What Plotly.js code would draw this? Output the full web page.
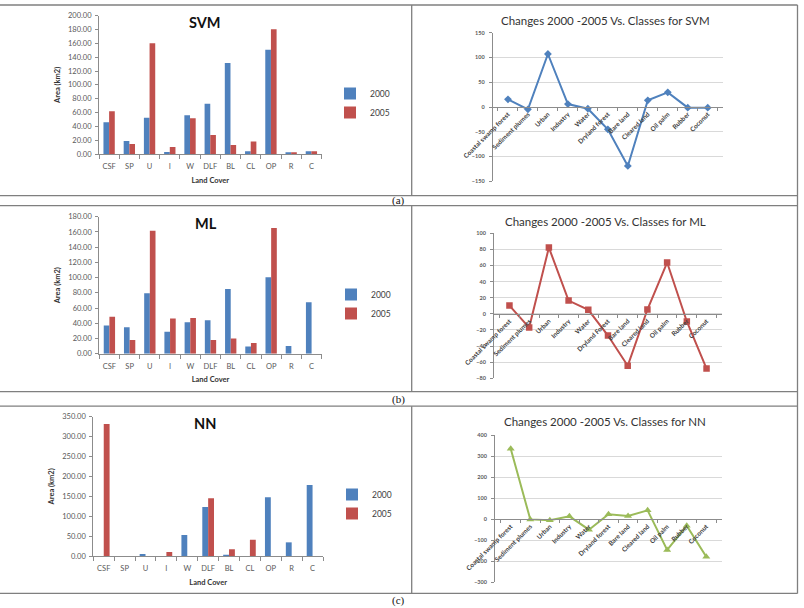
<!DOCTYPE html>
<html>
<head>
<meta charset="utf-8">
<script src="https://cdn.plot.ly/plotly-3.0.1.min.js"></script>
<style>
html,body{margin:0;padding:0;background:#fff;}
#chart{width:804px;height:608px;}
</style>
</head>
<body>
<div id="chart"></div>
<script>
// ---------- data ----------
const landCover = ['CSF','SP','U','I','W','DLF','BL','CL','OP','R','C'];
const svm2000 = [45.8, 18.8, 52.5, 2.9, 55.9, 72.8, 131.6, 3.9, 150.8, 2.4, 3.9];
const svm2005 = [61.7, 14.5, 160.0, 10.1, 51.6, 27.5, 13.0, 18.0, 180.5, 2.4, 3.9];
const ml2000 = [37.2, 34.6, 79.3, 28.9, 41.2, 43.8, 85.0, 9.6, 100.5, 10.0, 67.5];
const ml2005 = [48.6, 18.0, 161.6, 46.4, 46.9, 18.0, 20.1, 14.0, 165.0, 0, 0];
const nn2000 = [0, 0, 5.0, 0, 52.8, 123.0, 3.3, 0, 147.4, 34.3, 178.4];
const nn2005 = [331.6, 0, 0, 10.0, 0, 145.0, 16.8, 41.0, 0, 0, 0];

const classesSVM = ['Coastal swamp forest','Sediment plumes','Urban','Industry','Water','Dryland forest','Bare land','Cleared land','Oil palm','Rubber','Coconut'];
const classesML  = ['Coastal swamp forest','Sediment plumes','Urban','Industry','Water','Dryland Forest','Bare land','Cleared land','Oil palm','Rubber','Coconut'];
const classesNN  = ['Coastal swamp forest','Sediment plumes','Urban','Industry','Water','Dryland forest','Bare land','Cleared land','Oil palm','Rubber','Coconut'];
const svmChange = [15.5, -4.7, 107, 6, -3.4, -45, -119, 13.5, 29.6, -1.3, -1.3];
const mlChange  = [10.3, -17, 82.3, 16.5, 5, -26.9, -64.5, 5.4, 63.7, -9.5, -67.9];
const nnChange  = [335, -1, -5, 13.6, -50, 23, 15, 42, -146, -31, -179];

// ---------- helpers ----------
const W = 804, H = 608;
const X = px => px / W;
const Y = py => 1 - py / H;
const BLUE = '#4F81BD', RED = '#C0504D', GREEN = '#9BBB59';
const FONT = 'Lato, "Liberation Sans", sans-serif';

function barY(range, dtick, dom){
  return {domain:[Y(dom[0]),Y(dom[1])], range:range, dtick:dtick, tickformat:'.2f',
    showline:true, linecolor:'#8c8c8c', linewidth:1, ticks:'outside', ticklen:3, tickcolor:'#8c8c8c',
    ticklabelstandoff:2,
    showgrid:false, zeroline:false, fixedrange:true,
    tickfont:{size:7.5, color:'#595959', family:FONT},
    title:{text:'Area (km2)', font:{size:7.5, weight:'bold', color:'#333'}, standoff:6}};
}
function barX(dom, anchor){
  return {domain:[X(dom[0]),X(dom[1])], anchor:anchor, type:'category', tickangle:0,
    showline:true, linecolor:'#8c8c8c', linewidth:1, ticks:'outside', tickson:'boundaries', ticklen:4, tickcolor:'#8c8c8c',
    ticklabelstandoff:5,
    showgrid:false, zeroline:false, fixedrange:true,
    tickfont:{size:7.5, color:'#595959', family:FONT},
    title:{text:'Land Cover', font:{size:7.5, weight:'bold', color:'#333'}, standoff:7}};
}
function lineY(range, dtick, dom){
  return {domain:[Y(dom[0]),Y(dom[1])], range:range, dtick:dtick,
    showline:true, linecolor:'#8c8c8c', linewidth:1, ticks:'outside', ticklen:3, tickcolor:'#8c8c8c',
    ticklabelstandoff:3,
    showgrid:true, gridcolor:'#d9d9d9', gridwidth:1, zeroline:false, fixedrange:true,
    tickfont:{size:5.5, color:'#595959', family:FONT, weight:'bold'}};
}
function lineX(dom, zeroPx){
  return {domain:[X(dom[0]),X(dom[1])], anchor:'free', position:Y(zeroPx), type:'category',
    showline:true, linecolor:'#8c8c8c', linewidth:1, ticks:'outside', tickson:'boundaries', ticklen:3, tickcolor:'#8c8c8c',
    showgrid:false, zeroline:false, fixedrange:true, tickangle:-45,
    tickfont:{size:6.5, color:'#404040', family:FONT, weight:'bold'}};
}

// ---------- traces ----------
const traces = [
  {type:'bar', x:landCover, y:svm2000, name:'2000', marker:{color:BLUE}, xaxis:'x', yaxis:'y', legend:'legend'},
  {type:'bar', x:landCover, y:svm2005, name:'2005', marker:{color:RED}, xaxis:'x', yaxis:'y', legend:'legend'},
  {type:'scatter', mode:'lines+markers', x:classesSVM, y:svmChange, xaxis:'x2', yaxis:'y2', showlegend:false,
    line:{color:BLUE, width:2}, marker:{symbol:'diamond', size:6, color:BLUE}},
  {type:'bar', x:landCover, y:ml2000, name:'2000', marker:{color:BLUE}, xaxis:'x3', yaxis:'y3', legend:'legend2'},
  {type:'bar', x:landCover, y:ml2005, name:'2005', marker:{color:RED}, xaxis:'x3', yaxis:'y3', legend:'legend2'},
  {type:'scatter', mode:'lines+markers', x:classesML, y:mlChange, xaxis:'x4', yaxis:'y4', showlegend:false,
    line:{color:RED, width:2}, marker:{symbol:'square', size:6.5, color:RED}},
  {type:'bar', x:landCover, y:nn2000, name:'2000', marker:{color:BLUE}, xaxis:'x5', yaxis:'y5', legend:'legend3'},
  {type:'bar', x:landCover, y:nn2005, name:'2005', marker:{color:RED}, xaxis:'x5', yaxis:'y5', legend:'legend3'},
  {type:'scatter', mode:'lines+markers', x:classesNN, y:nnChange, xaxis:'x6', yaxis:'y6', showlegend:false,
    line:{color:GREEN, width:2}, marker:{symbol:'triangle-up', size:7, color:GREEN}}
];

// ---------- layout ----------
const legendBase = (yTop, xL) => ({x:X(xL), y:Y(yTop), xanchor:'left', yanchor:'top', bgcolor:'rgba(0,0,0,0)',
  font:{size:8.5, color:'#404040', family:FONT}, tracegroupgap:0, itemwidth:30, traceorder:'normal'});

const lines = [];
const L = (x0,y0,x1,y1) => lines.push({type:'line', xref:'paper', yref:'paper', x0:X(x0), y0:Y(y0), x1:X(x1), y1:Y(y1),
  line:{color:'#7f7f7f', width:1.3}});
L(0,5,797.5,5); L(797.5,5,797.5,593.5);
L(0,195.7,797.5,195.7); L(0,205.7,797.5,205.7);
L(0,391.7,797.5,391.7); L(0,406.2,797.5,406.2);
L(0,593.3,797.5,593.3);
L(411.7,5,411.7,195.7); L(411.7,205.7,411.7,391.7); L(411.7,406.2,411.7,593.3);

const ann = [];
const T = (text, x, y, size, opts) => ann.push(Object.assign({text:text, xref:'paper', yref:'paper', x:X(x), y:Y(y),
  xanchor:'center', yanchor:'middle', showarrow:false, font:{size:size, family:FONT, color:'#222'}}, opts||{}));
T('<b>SVM</b>', 205, 23, 14.5, {font:{size:14.5, family:FONT, color:'#111'}});
T('<b>ML</b>', 205.7, 223.5, 14.5, {font:{size:14.5, family:FONT, color:'#111'}});
T('<b>NN</b>', 205, 423, 14.5, {font:{size:14.5, family:FONT, color:'#111'}});
const titleFont = {size:11.5, family:FONT, color:'#333'};
T('Changes 2000 -2005 Vs. Classes for SVM', 605, 20, 11.5, {font:titleFont});
T('Changes 2000 -2005 Vs. Classes for ML', 605, 221.7, 11.5, {font:titleFont});
T('Changes 2000 -2005 Vs. Classes for NN', 605, 421.7, 11.5, {font:titleFont});
const capFont = {size:11, family:'"Liberation Serif", serif', color:'#111'};
T('(a)', 398, 200.7, 11, {font:capFont});
T('(b)', 398, 399, 11, {font:capFont});
T('(c)', 398, 600.5, 11, {font:capFont});

const layout = {
  width:W, height:H, margin:{l:0,r:0,t:0,b:0,pad:0},
  paper_bgcolor:'#fff', plot_bgcolor:'rgba(0,0,0,0)',
  font:{family:FONT, color:'#404040'},
  barmode:'group', bargap:0.44, bargroupgap:0,
  xaxis: barX([99,321.5],'y'),
  yaxis: Object.assign(barY([0,200],20,[154,15.7]), {anchor:'x'}),
  xaxis2: lineX([492.7,723],107),
  yaxis2: Object.assign(lineY([-150,150],50,[181.3,32.7]), {anchor:'x2'}),
  xaxis3: barX([99.3,321.7],'y3'),
  yaxis3: Object.assign(barY([0,180],20,[353.7,216.7]), {anchor:'x3'}),
  xaxis4: lineX([494,722],313.9),
  yaxis4: Object.assign(lineY([-80,100],20,[378.3,233.3]), {anchor:'x4'}),
  xaxis5: barX([93.3,323],'y5'),
  yaxis5: Object.assign(barY([0,350],50,[556,416.7]), {anchor:'x5'}),
  xaxis6: lineX([495,722],519.2),
  yaxis6: Object.assign(lineY([-300,400],100,[582.3,435]), {anchor:'x6'}),
  legend: legendBase(79, 330),
  legend2: legendBase(280, 331),
  legend3: legendBase(480, 332),
  shapes: lines,
  annotations: ann
};

Plotly.newPlot('chart', traces, layout, {staticPlot:true, displayModeBar:false});
</script>
</body>
</html>
